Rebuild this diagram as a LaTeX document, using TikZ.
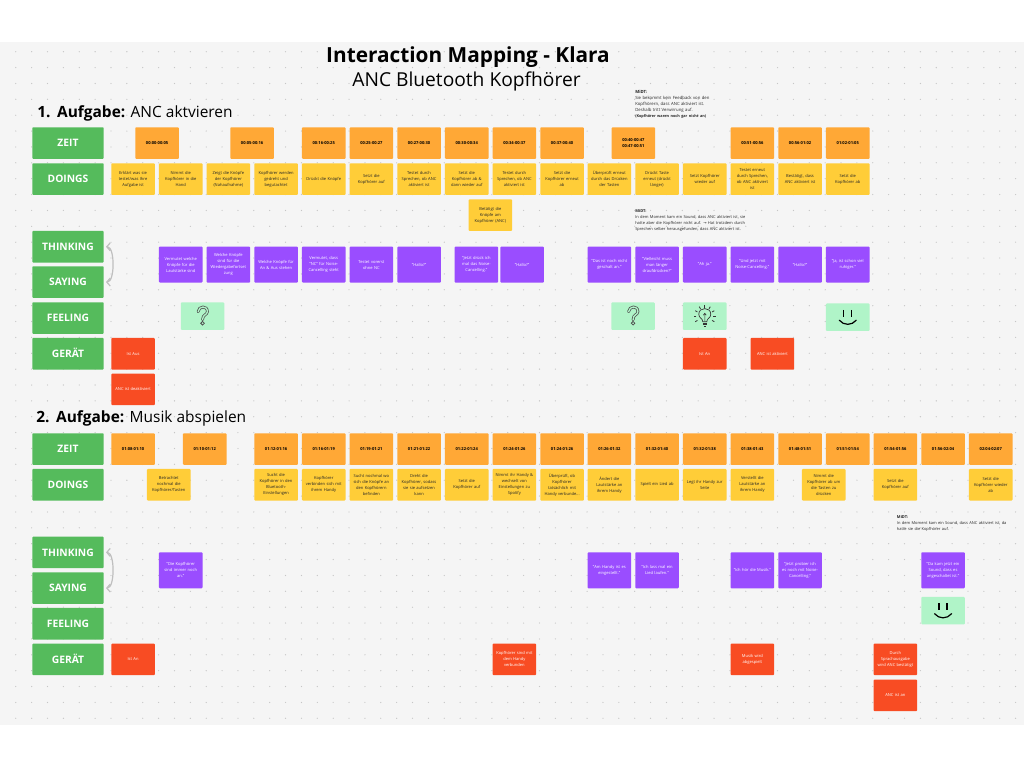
\documentclass[tikz,border=0pt]{standalone}
\usepackage{fontspec}
\usetikzlibrary{arrows.meta}
\setmainfont{Open Sans}
\newfontfamily\symfont{DejaVu Sans}
\definecolor{canvasgrey}{HTML}{F5F5F5}
\definecolor{griddot}{HTML}{C6C6C6}
\definecolor{labelgreen}{HTML}{55BB5C}
\definecolor{zeitorange}{HTML}{FFA836}
\definecolor{doingyellow}{HTML}{FFCD38}
\definecolor{thinkpurple}{HTML}{9A4DFF}
\definecolor{geraetred}{HTML}{F84C23}
\definecolor{feelmint}{HTML}{B0F4C8}
\tikzset{
  x=0.75pt,y=-0.75pt,
  cardbox/.style={anchor=north west,inner sep=0pt,minimum width=32.7pt,minimum height=23.7pt,
    text width=32pt,align=center,rounded corners=0.7pt,font=\fontsize{3.05}{4.5}\selectfont},
  rowlabel/.style={anchor=north west,fill=labelgreen,text=white,inner sep=0pt,minimum width=53.6pt,
    minimum height=23.7pt,text height=5.8pt,text depth=0pt,rounded corners=0.7pt,font=\fontsize{7.7}{10}\selectfont\bfseries},
  zeitbox/.style={cardbox,fill=zeitorange,text=black,font=\fontsize{3.05}{4.5}\selectfont\bfseries},
  doingbox/.style={cardbox,fill=doingyellow,text=black!85},
  thinkbox/.style={cardbox,fill=thinkpurple,text=white,minimum height=27pt},
  geraetbox/.style={cardbox,fill=geraetred,text=white},
  feelbox/.style={cardbox,fill=feelmint,minimum height=20.6pt},
  notetext/.style={anchor=north west,inner sep=0pt,text width=105pt,align=left,
    font=\fontsize{3.0}{4.55}\selectfont,text=black!85},
  headline/.style={anchor=west,inner sep=0pt,font=\fontsize{11.6}{14}\selectfont},
  linkarrow/.style={{Straight Barb[length=2.6pt,width=6pt]}-{Straight Barb[length=2.6pt,width=6pt]},
    black!25,line width=0.9pt,shorten >=1.5pt,shorten <=1.5pt},
  qmark/.pic={
    \draw[line width=2.1pt,black!70,line cap=round] (-4.5,-4.5) .. controls (-4,-10.5) and (5,-11) .. (4.8,-4.5) .. controls (4.6,-1) and (0,-2) .. (0,3.5);
    \draw[line width=1pt,feelmint,line cap=round] (-4.5,-4.5) .. controls (-4,-10.5) and (5,-11) .. (4.8,-4.5) .. controls (4.6,-1) and (0,-2) .. (0,3.5);
    \draw[line width=0.6pt,black!70,fill=feelmint] (0,7) circle (1.8);
  },
  smiley/.pic={
    \draw[line width=0.9pt,black] (-4,-7.3) -- (-4,-0.3);
    \draw[line width=0.9pt,black] (4,-7.3) -- (4,-0.3);
    \draw[line width=0.9pt,black,line cap=round] (-8.5,3) .. controls (-4,8.5) and (4,8.5) .. (8.5,3);
  },
  bulbicon/.pic={
    \draw[line width=0.5pt,black!80] (-2,5.5) .. controls (-2,2) and (-6,2) .. (-6,-2) .. controls (-6,-9.5) and (6,-9.5) .. (6,-2) .. controls (6,2) and (2,2) .. (2,5.5) -- cycle;
    \draw[line width=0.5pt,black!80] (-2,7) -- (2,7) (-2,8.5) -- (2,8.5) (-1,10) -- (1,10);
    \draw[line width=0.4pt,black!80] (0,5) -- (0,-3) (-1.5,-1) -- (0,-3) -- (1.5,-1);
    \foreach \a in {0,30,60,90,120,150,180,-30,210} \draw[line width=0.6pt,black!80] (\a:-8.5) -- (\a:-11);
  },
}
\begin{document}
\begin{tikzpicture}
  \useasboundingbox (0,0) rectangle (1024,768);
  \fill[white] (0,0) rectangle (1024,768);
  \fill[canvasgrey] (0,42) rectangle (1024,725);
  % dot grid
  \foreach \i in {-6,...,57} \foreach \j in {-11,...,31}
    \fill[griddot] ({111+15.87*\i},{226.3+15.87*\j}) circle (0.65);

  % titles
  \node[inner sep=0pt,font=\fontsize{15.6}{18}\selectfont\bfseries] (title) at (468,57.5) {Interaction Mapping - Klara};
  \node[inner sep=0pt,font=\fontsize{14.4}{17}\selectfont] (subtitle) at (466.5,81) {ANC Bluetooth Kopfhörer};
  \node[headline] (head1) at (37,113) {\textbf{1.\ \,Aufgabe:} ANC aktvieren};
  \node[headline] (head2) at (36,418) {\textbf{2.\ \,Aufgabe:} Musik abspielen};

  % row labels
  \foreach \y/\txt/\nm in {127/ZEIT/lza,163/DOINGS/lda,230.7/THINKING/lta,266/SAYING/lsa,302/FEELING/lfa,337.7/GERÄT/lga,
    433/ZEIT/lzb,468.7/DOINGS/ldb,536.3/THINKING/ltb,572/SAYING/lsb,607.7/FEELING/lfb,643.3/GERÄT/lgb}
    \node[rowlabel] (\nm) at (32,\y) {\txt};
  \draw[linkarrow] (lta.east) .. controls +(11,0) and +(11,0) .. (lsa.east);
  \draw[linkarrow] (ltb.east) .. controls +(11,0) and +(11,0) .. (lsb.east);

  % Aufgabe 1
  \foreach \x/\txt [count=\i] in {135/00:00-00:05,230/00:05-00:16,301.7/00:16-00:25,349.3/00:25-00:27,397/00:27-00:30,
    444.7/00:30-00:34,492.3/00:34-00:37,540/00:37-00:40,611.3/{00:40-00:47\\00:47-00:51},730.3/00:51-00:56,
    778/00:56-01:02,825.7/01:02-01:05}
    \node[zeitbox] (za\i) at (\x,127) {\txt};
  \foreach \x/\txt [count=\i] in {
    111/{Erklärt was sie\\testet/was Ihre\\Aufgabe ist},
    158.7/{Nimmt die\\Kopfhörer in die\\Hand},
    206.3/{Zeigt die Knöpfe\\der Kopfhörer\\(Nahaufnahme)},
    254/{Kopfhörer werden\\gedreht und\\begutachtet},
    301.7/{Drückt die Knöpfe},
    349.3/{Setzt die\\Kopfhörer auf},
    397/{Testet durch\\Sprechen, ob ANC\\aktiviert ist},
    444.7/{Setzt die\\Kopfhörer ab \&\\dann wieder auf},
    492.3/{Testet durch\\Sprechen, ob ANC\\aktiviert ist},
    540/{Setzt die\\Kopfhörer erneut\\ab},
    587.3/{Überprüft erneut\\durch das Drücken\\der Tasten},
    635/{Drückt Taste\\erneut (drückt\\länger)},
    682.7/{Setzt Kopfhörer\\wieder auf},
    730.3/{Testet erneut\\durch Sprechen,\\ob ANC aktiviert\\ist},
    778/{Bestätigt, dass\\ANC aktiviert ist},
    825.7/{Setzt die\\Kopfhörer ab}}
    \node[doingbox] (da\i) at (\x,163) {\txt};
  \node[doingbox] (daextra) at (468.3,199) {Betätigt die\\Knöpfe am\\Kopfhörer (ANC)};
  \foreach \x/\txt [count=\i] in {
    158.7/{Vermutet welche\\Knöpfe für die\\Lautstärke sind},
    206.3/{Welche Knöpfe\\sind für die\\Wiedergabefortset\\zung},
    254/{Welche Knöpfe für\\An \& Aus stehen},
    301.7/{Vermutet, dass\\"NC" für Noise-\\Cancelling steht},
    349.3/{Testet vorerst\\ohne NC},
    397/{"Hallo?"},
    454.3/{"Jetzt drück ich\\mal das Noise-\\Cancelling."},
    500/{"Hallo?"},
    587.3/{"Das ist noch nicht\\geschalt an."},
    635/{"Vielleicht muss\\man länger\\draufdrücken?"},
    682.7/{"Ah ja."},
    730.3/{"Und jetzt mit\\Noise-Cancelling."},
    778/{"Hallo?"},
    825.7/{"Ja, ist schon viel\\ruhiger."}}
    \node[thinkbox] (ta\i) at (\x,246.3) {\txt};
  \node[feelbox] (fa1) at (180.5,302.2) {};
  \node[feelbox] (fa2) at (611,302.2) {};
  \node[feelbox] (fa3) at (682.7,302.2) {};
  \node[feelbox] (fa4) at (825.7,303.2) {};
  \pic at (fa1.center) {qmark};
  \pic at (fa2.center) {qmark};
  \pic at (fa3.center) {bulbicon};
  \pic at (fa4.center) {smiley};
  \node[geraetbox] (ga1) at (111,337.7) {Ist Aus};
  \node[geraetbox] (ga2) at (111,373.3) {ANC ist deaktiviert};
  \node[geraetbox] (ga3) at (682.7,337.7) {Ist An};
  \node[geraetbox] (ga4) at (750.3,337.7) {ANC ist aktiviert};

  % notes
  \node[notetext,font=\fontsize{3.2}{4.55}\selectfont] (notea) at (635,90.2) {\textbf{MiDT:}\\Sie bekommt kein Feedback von den\\Kopfhörern, dass ANC aktiviert ist.\\Deshalb tritt Verwirrung auf.\\{\fontsize{2.85}{4.55}\selectfont\textbf{(Kopfhörer waren noch gar nicht an)}}};
  \node[notetext] (noteb) at (635,209.2) {\textbf{MiDT:}\\In dem Moment kam ein Sound, dass ANC aktiviert ist, sie\\hatte aber die Kopfhörer nicht auf. {\symfont →} Hat trotzdem durch\\Sprechen selber herausgefunden, dass ANC aktiviert ist.};
  \node[notetext] (notec) at (896.7,515) {\textbf{MiDT:}\\In dem Moment kam ein Sound, dass ANC aktiviert ist, da\\hatte sie die Kopfhörer auf.};

  % Aufgabe 2
  \foreach \x/\txt [count=\i] in {111/01:08-01:10,182.7/01:10-01:12,254/01:12-01:16,301.7/01:16-01:19,349.3/01:19-01:21,
    397/01:21-01:22,444.7/01:22-01:24,492.3/01:24-01:26,540/01:24-01:26,587.3/01:26-01:32,635/01:32-01:40,
    682.7/01:32-01:38,730.3/01:38-01:43,778/01:48-01:51,825.7/01:51-01:54,873.3/01:54-01:56,921/01:56-02:04,968.7/02:04-02:07}
    \node[zeitbox] (zb\i) at (\x,433) {\txt};
  \foreach \x/\txt [count=\i] in {
    146.7/{Betrachtet\\nochmal die\\Kopfhörer/Tasten},
    254/{Sucht die\\Kopfhörer in den\\Bluetooth-\\Einstellungen},
    301.7/{Kopfhörer\\verbinden sich mit\\ihrem Handy},
    349.3/{Sucht nochmal wo\\sich die Knöpfe an\\den Kopfhörern\\befinden},
    397/{Dreht die\\Kopfhörer, sodass\\sie sie aufsetzen\\kann},
    444.7/{Setzt die\\Kopfhörer auf},
    492.3/{Nimmt ihr Handy \&\\wechselt von\\Einstellungen zu\\Spotify},
    540/{Überprüft, ob\\Kopfhörer\\tatsächlich mit\\Handy verbunde...},
    587.3/{Ändert die\\Lautstärke an\\ihrem Handy},
    635/{Spielt ein Lied ab},
    682.7/{Legt ihr Handy zur\\Seite},
    730.3/{Verstellt die\\Lautstärke an\\ihrem Handy},
    801.7/{Nimmt die\\Kopfhörer ab um\\die Tasten zu\\drücken},
    873.3/{Setzt die\\Kopfhörer auf},
    968.7/{Setzt die\\Kopfhörer wieder\\ab}}
    \node[doingbox] (db\i) at (\x,468.7) {\txt};
  \foreach \x/\txt [count=\i] in {
    158.7/{"Die Kopfhörer\\sind immer noch\\an."},
    587.3/{"Am Handy ist es\\eingestellt."},
    635/{"Ich lass mal ein\\Lied laufen."},
    730.3/{"Ich hör die Musik."},
    778/{"Jetzt probier ich\\es noch mit Noise-\\Cancelling."},
    921/{"Da kam jetzt ein\\Sound, dass es\\angeschaltet ist."}}
    \node[thinkbox] (tb\i) at (\x,552) {\txt};
  \node[feelbox] (fb1) at (921,596.7) {};
  \pic at (fb1.center) {smiley};
  \foreach \x/\y/\txt [count=\i] in {
    111/643.3/{Ist An},
    492.3/643.3/{Kopfhörer sind mit\\dem Handy\\verbunden},
    730.3/643.3/{Musik wird\\abgespielt},
    873.3/643.3/{Durch\\Sprachausgabe\\wird ANC bestätigt},
    873.3/679.3/{ANC ist an}}
    \node[geraetbox] (gb\i) at (\x,\y) {\txt};
\end{tikzpicture}
\end{document}
